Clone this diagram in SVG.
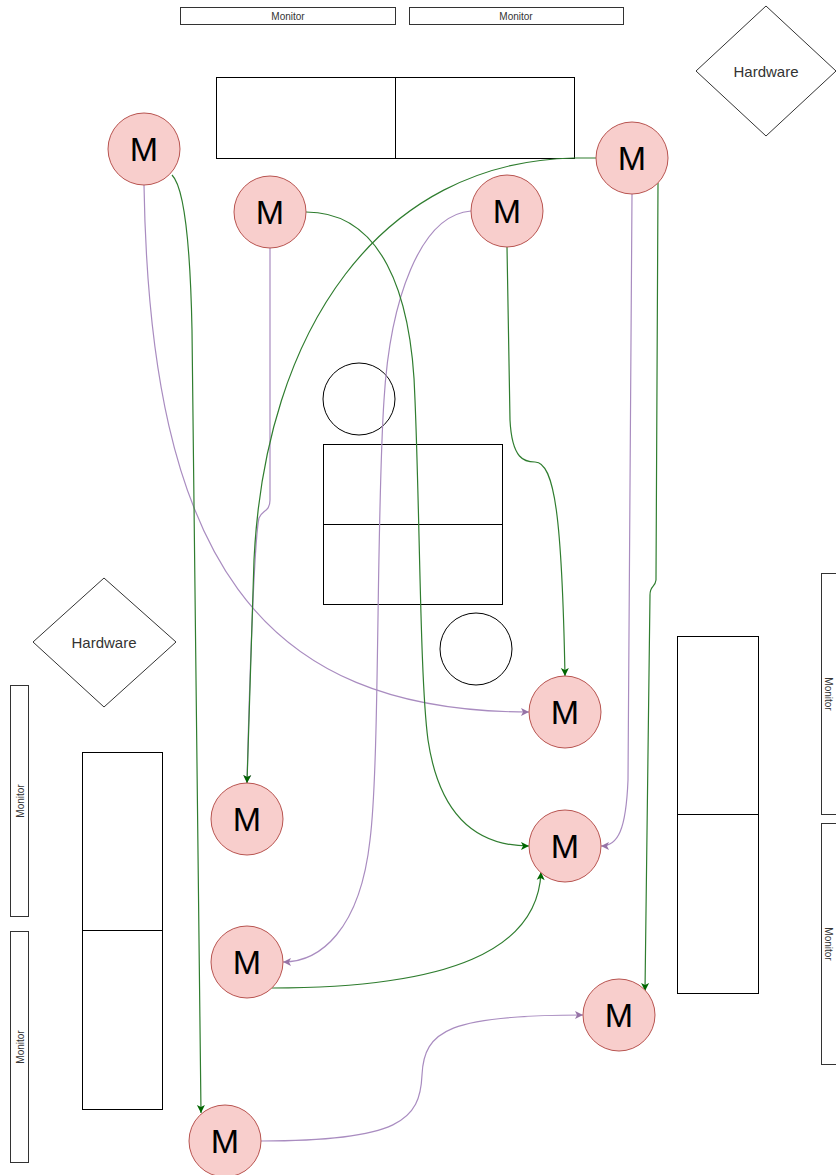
<svg xmlns="http://www.w3.org/2000/svg" width="836" height="1175" viewBox="0 0 836 1175">
<style>
.box{fill:#fff;stroke:#000;stroke-width:1}
.mon{fill:#fff;stroke:#333;stroke-width:1}
.m{fill:#f8cecc;stroke:#b85450;stroke-width:1}
.mt{font-family:"Liberation Sans",Arial,sans-serif;font-size:34px;fill:#000;text-anchor:middle;dominant-baseline:central}
.ht{font-family:"Liberation Sans",Arial,sans-serif;font-size:15px;fill:#333;text-anchor:middle;dominant-baseline:central}
.mo{font-family:"Liberation Sans",Arial,sans-serif;font-size:10px;fill:#333;text-anchor:middle;dominant-baseline:central}
.g{fill:none;stroke:#2f7d2f;stroke-width:1.2}
.p{fill:none;stroke:#a98cc0;stroke-width:1.2}
</style>
<defs>
<marker id="ag" markerWidth="10" markerHeight="10" refX="9" refY="5" orient="auto" markerUnits="userSpaceOnUse"><path d="M1,1 L9,5 L1,9 L3,5 Z" fill="#006600"/></marker>
<marker id="ap" markerWidth="10" markerHeight="10" refX="9" refY="5" orient="auto" markerUnits="userSpaceOnUse"><path d="M1,1 L9,5 L1,9 L3,5 Z" fill="#9673a6"/></marker>
</defs>
<rect width="836" height="1175" fill="#fff"/>
<g id="monitor-top1"><rect class="mon" x="180.5" y="7.5" width="215" height="17"/><text class="mo" x="288" y="16">Monitor</text></g>
<g id="monitor-top2"><rect class="mon" x="409.5" y="7.5" width="214" height="17"/><text class="mo" x="516" y="16">Monitor</text></g>
<g id="hardware-top"><polygon class="mon" points="766,6 836,71 766,136 696,71"/><text class="ht" x="766" y="71">Hardware</text></g>
<g id="hardware-left"><polygon class="mon" points="104,578 176,642 104,707 33,642"/><text class="ht" x="104" y="642">Hardware</text></g>
<g id="monitor-left1"><rect class="mon" x="10.5" y="685.5" width="18" height="231"/><text class="mo" transform="translate(20,801) rotate(-90)">Monitor</text></g>
<g id="monitor-left2"><rect class="mon" x="10.5" y="931.5" width="18" height="231"/><text class="mo" transform="translate(20,1047) rotate(-90)">Monitor</text></g>
<g id="monitor-right1"><rect class="mon" x="821.5" y="573.5" width="18" height="241"/><text class="mo" transform="translate(828,694) rotate(90)">Monitor</text></g>
<g id="monitor-right2"><rect class="mon" x="821.5" y="823.5" width="18" height="241"/><text class="mo" transform="translate(828,944) rotate(90)">Monitor</text></g>
<g id="table-top"><rect class="box" x="216.5" y="77.5" width="358" height="81"/><line class="box" x1="395.5" y1="77.5" x2="395.5" y2="158.5"/></g>
<g id="table-mid"><rect class="box" x="323.5" y="444.5" width="179" height="160"/><line class="box" x1="323.5" y1="524.5" x2="502.5" y2="524.5"/></g>
<g id="table-left"><rect class="box" x="82.5" y="752.5" width="80" height="357"/><line class="box" x1="82.5" y1="930.5" x2="162.5" y2="930.5"/></g>
<g id="table-right"><rect class="box" x="677.5" y="636.5" width="81" height="357"/><line class="box" x1="677.5" y1="814.5" x2="758.5" y2="814.5"/></g>
<g id="circle1"><circle class="box" cx="359" cy="399" r="36"/></g>
<g id="circle2"><circle class="box" cx="476" cy="649" r="36"/></g>
<g id="connectors">
<path class="p" d="M144,185 C150,560 260,712 529,712" marker-end="url(#ap)"/>
<path class="p" d="M270,248 L270,500 C270,512 262,510 259,518 C254,540 249,700 247,783" marker-end="url(#ap)"/>
<path class="p" d="M471,211 C420,215 390,300 384,400 C376,520 380,760 370,840 C360,930 320,962 283,962" marker-end="url(#ap)"/>
<path class="p" d="M632,194 L628,780 C626,830 618,846 601,846" marker-end="url(#ap)"/>
<path class="p" d="M261,1141 C400,1141 420,1120 422,1075 C424,1030 450,1015 583,1015" marker-end="url(#ap)"/>
<path class="g" d="M172,175 C182,185 190,230 192,330 L201,1113" marker-end="url(#ag)"/>
<path class="g" d="M306,212 C380,212 412,290 415,400 C420,520 420,680 428,740 C440,820 480,846 529,846" marker-end="url(#ag)"/>
<path class="g" d="M507,247 L510,420 C512,460 525,462 535,462 C555,462 562,520 565,676" marker-end="url(#ag)"/>
<path class="g" d="M596,158 L574,158 C380,162 265,330 254,560 L247,783" marker-end="url(#ag)"/>
<path class="g" d="M658,183 L656,580 C655,588 650,585 650,595 L645,991" marker-end="url(#ag)"/>
<path class="g" d="M272,988 C450,988 538,950 541,872" marker-end="url(#ag)"/>
</g>
<g id="m1"><circle class="m" cx="144" cy="149" r="36"/><text class="mt" x="144" y="149">M</text></g>
<g id="m2"><circle class="m" cx="270" cy="212" r="36"/><text class="mt" x="270" y="212">M</text></g>
<g id="m3"><circle class="m" cx="507" cy="211" r="36"/><text class="mt" x="507" y="211">M</text></g>
<g id="m4"><circle class="m" cx="632" cy="158" r="36"/><text class="mt" x="632" y="158">M</text></g>
<g id="m5"><circle class="m" cx="565" cy="712" r="36"/><text class="mt" x="565" y="712">M</text></g>
<g id="m6"><circle class="m" cx="247" cy="819" r="36"/><text class="mt" x="247" y="819">M</text></g>
<g id="m7"><circle class="m" cx="565" cy="846" r="36"/><text class="mt" x="565" y="846">M</text></g>
<g id="m8"><circle class="m" cx="247" cy="962" r="36"/><text class="mt" x="247" y="962">M</text></g>
<g id="m9"><circle class="m" cx="619" cy="1015" r="36"/><text class="mt" x="619" y="1015">M</text></g>
<g id="m10"><circle class="m" cx="225" cy="1141" r="36"/><text class="mt" x="225" y="1141">M</text></g>
</svg>
